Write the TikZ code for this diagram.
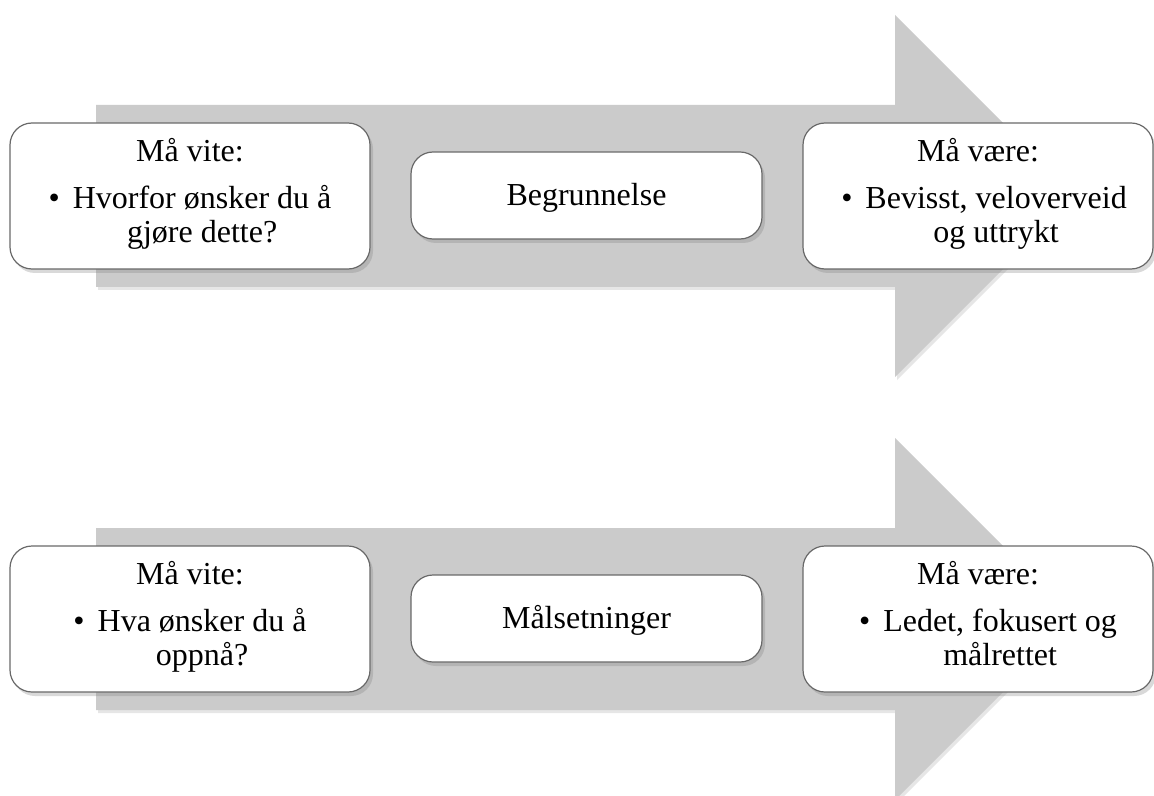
\documentclass[tikz,border=0pt]{standalone}
\usepackage{fontspec}
\setmainfont{Liberation Serif}
\usetikzlibrary{shadows}

\definecolor{pilgraa}{RGB}{203,203,203}
\definecolor{kant}{RGB}{105,105,105}

% bullet line with a centred block of text after it
\newcommand{\punkt}[2][0pt]{\hspace*{#1}\textbullet\hspace{6.5pt}\begin{tabular}[t]{@{}c@{}}#2\end{tabular}}

\begin{document}
\begin{tikzpicture}[x=0.5pt, y=-0.5pt,
  pil/.style={fill=pilgraa, drop shadow={shadow xshift=1pt, shadow yshift=-1.5pt, opacity=0.2}},
  boks/.style={draw=kant, line width=0.6pt, fill=white, rounded corners=11pt,
    align=center, inner sep=0pt, font=\fontsize{16}{17}\selectfont,
    drop shadow={shadow xshift=1.5pt, shadow yshift=-2pt, opacity=0.3}},
  sideboks/.style={boks, minimum width=180pt, minimum height=73pt,
    execute at begin node={\rule{0pt}{18pt}}},
  midtboks/.style={boks, minimum width=175.5pt, minimum height=43.5pt,
    execute at begin node={\rule{0pt}{13pt}}}]

  \clip (0,0) rectangle (1154,796);

  % Upper arrow: Begrunnelse
  \path[pil] (96,105) -- (895,105) -- (895,15) -- (1076,196) -- (895,377)
    -- (895,287) -- (96,287) -- cycle;

  \node[sideboks] (vite1) at (190,196)
    {Må vite:\\[6.5pt]\punkt{Hvorfor ønsker du å\\ gjøre dette?}};
  \node[midtboks] (begrunnelse) at (586.5,195.5) {Begrunnelse};
  \node[sideboks, minimum width=175pt] (vaere1) at (978,196)
    {Må være:\\[6.5pt]\punkt[6pt]{Bevisst, veloverveid\\ og uttrykt}};

  % Lower arrow: Målsetninger
  \path[pil] (96,528) -- (895,528) -- (895,438) -- (1076,619) -- (895,800)
    -- (895,710) -- (96,710) -- cycle;

  \node[sideboks] (vite2) at (190,619)
    {Må vite:\\[6.5pt]\punkt{Hva ønsker du å\\ oppnå?}};
  \node[midtboks] (maal) at (586.5,618.5) {Målsetninger};
  \node[sideboks, minimum width=175pt] (vaere2) at (978,619)
    {Må være:\\[6.5pt]\punkt[10pt]{Ledet, fokusert og\\ målrettet}};
\end{tikzpicture}
\end{document}
